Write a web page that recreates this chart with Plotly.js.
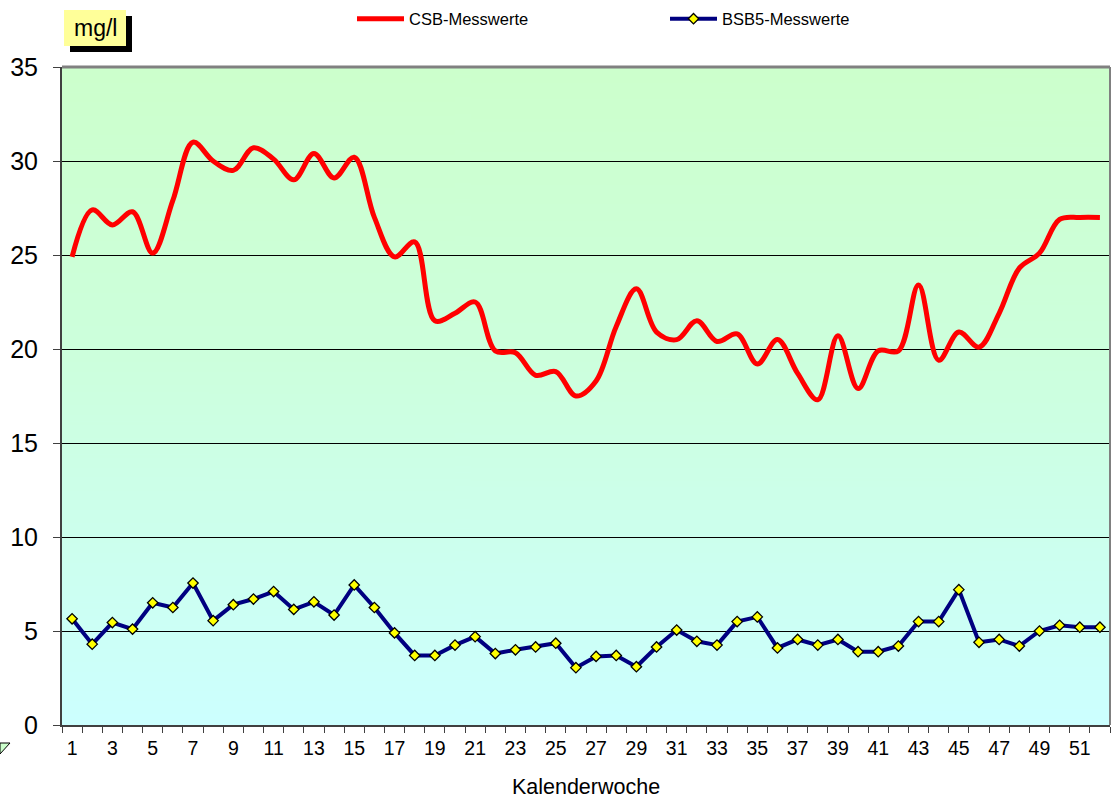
<!DOCTYPE html>
<html>
<head>
<meta charset="utf-8">
<script src="https://cdn.plot.ly/plotly-3.0.1.min.js"></script>
<style>html,body{margin:0;padding:0;background:#fff;}#chart{width:1111px;height:801px;}</style>
</head>
<body>
<div id="chart"></div>
<script>
// Calendar weeks
const weeks = [1,2,3,4,5,6,7,8,9,10,11,12,13,14,15,16,17,18,19,20,21,22,23,24,25,26,27,28,29,30,31,32,33,34,35,36,37,38,39,40,41,42,43,44,45,46,47,48,49,50,51,52];
// CSB-Messwerte (mg/l)
const csb = [24.9,27.4,26.6,27.3,25.1,27.9,31.0,30.0,29.5,30.7,30.1,29.0,30.4,29.1,30.2,27.0,24.9,25.7,21.5,21.9,22.5,19.9,19.8,18.6,18.8,17.5,18.3,21.2,23.2,20.9,20.5,21.5,20.4,20.8,19.2,20.5,18.7,17.3,20.7,17.9,19.9,19.9,23.4,19.4,20.9,20.1,21.9,24.3,25.1,26.9,27.0,27.0];
// BSB5-Messwerte (mg/l)
const bsb5 = [5.65,4.3,5.45,5.1,6.5,6.25,7.55,5.55,6.4,6.7,7.1,6.15,6.55,5.85,7.45,6.25,4.9,3.7,3.7,4.25,4.7,3.8,4.0,4.15,4.35,3.05,3.65,3.7,3.1,4.15,5.05,4.45,4.25,5.5,5.75,4.1,4.55,4.25,4.55,3.9,3.9,4.2,5.5,5.5,7.2,4.4,4.55,4.2,5.0,5.3,5.2,5.2];
// Tick labels
const xTickVals = [1,3,5,7,9,11,13,15,17,19,21,23,25,27,29,31,33,35,37,39,41,43,45,47,49,51];
const xTickText = xTickVals.map(String);
const yTickVals = [0,5,10,15,20,25,30,35];

// gradient background image
const cv = document.createElement('canvas');
cv.width = 4; cv.height = 400;
const cx = cv.getContext('2d');
const g = cx.createLinearGradient(0,0,0,400);
g.addColorStop(0,'#CCFFCC');
g.addColorStop(0.45,'#CCFFDD');
g.addColorStop(1,'#CCFFFF');
cx.fillStyle = g; cx.fillRect(0,0,4,400);
const bg = cv.toDataURL();

const L=62, T=67, W=1048, H=658;
const px = x => (x-L)/W;
const py = y => (T+H-y)/H;

const traces = [
  {x: weeks, y: csb, name: 'CSB-Messwerte', type:'scatter', mode:'lines',
   line:{color:'#FF0000', width:5, shape:'spline', smoothing:1}},
  {x: weeks, y: bsb5, name: 'BSB5-Messwerte', type:'scatter', mode:'lines+markers',
   line:{color:'#000080', width:4},
   marker:{symbol:'diamond', size:8, color:'#FFFF00', line:{color:'#000000', width:1.3}}}
];

const layout = {
  width:1111, height:801,
  margin:{l:L, r:1111-L-W, t:T, b:801-T-H, pad:0},
  paper_bgcolor:'#FFFFFF', plot_bgcolor:'rgba(0,0,0,0)',
  font:{family:'Liberation Sans, Arial, sans-serif', color:'#000'},
  showlegend:true,
  legend:{orientation:'h', x:px(352), y:py(19), yanchor:'middle', xanchor:'left',
          entrywidth:251, entrywidthmode:'pixels', font:{size:16.5, color:'#000'},
          bgcolor:'rgba(0,0,0,0)', itemwidth:47},
  xaxis:{type:'linear', range:[0.5,52.5], tickvals:xTickVals, ticktext:xTickText,
         ticks:'', showgrid:false, zeroline:false, showline:true, linecolor:'#404040', linewidth:2,
         tickfont:{size:19.5}, ticklabelstandoff:5,
         minor:{tick0:0.5, dtick:1, ticks:'outside', ticklen:6, tickcolor:'#404040', tickwidth:1, showgrid:false},
         title:{text:'Kalenderwoche', font:{size:21.5}, standoff:21}, fixedrange:true},
  yaxis:{range:[0,35], tickvals:yTickVals, ticks:'outside', ticklen:7, tickcolor:'#404040',
         showgrid:true, gridcolor:'#000000', gridwidth:1, zeroline:false, ticklabelstandoff:10,
         showline:true, linecolor:'#404040', linewidth:2, tickfont:{size:25}, fixedrange:true},
  images:[{source:bg, xref:'paper', yref:'paper', x:0, y:1, sizex:1, sizey:1, sizing:'stretch', layer:'below'}],
  shapes:[
    {type:'line', xref:'paper', yref:'paper', x0:0, x1:1, y0:1, y1:1, line:{color:'#808080', width:3}},
    {type:'line', xref:'paper', yref:'paper', x0:1, x1:1, y0:0, y1:1, line:{color:'#808080', width:2}},
    {type:'rect', xref:'paper', yref:'paper', x0:px(70), x1:px(132), y0:py(16), y1:py(52), fillcolor:'#000000', line:{width:0}},
    {type:'rect', xref:'paper', yref:'paper', x0:px(64), x1:px(126), y0:py(10), y1:py(46), fillcolor:'#FFFF99', line:{width:0}},
    {type:'path', xref:'paper', yref:'paper',
     path:'M '+px(0)+','+py(743)+' L '+px(10)+','+py(743)+' L '+px(0)+','+py(754)+' Z',
     fillcolor:'#CCFFCC', line:{color:'#000000', width:1}}
  ],
  annotations:[
    {text:'mg/l', xref:'paper', yref:'paper', x:px(95), y:py(28), xanchor:'center', yanchor:'middle',
     showarrow:false, font:{size:23, color:'#000'}}
  ]
};

Plotly.newPlot('chart', traces, layout, {displayModeBar:false, staticPlot:true});
</script>
</body>
</html>
